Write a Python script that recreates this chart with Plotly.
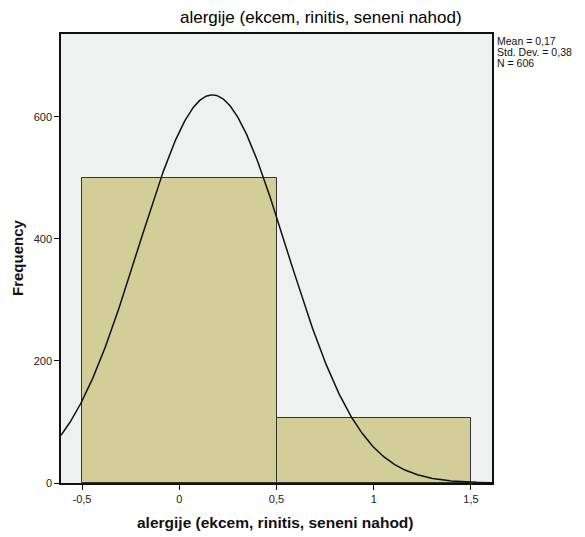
import numpy as np
import plotly.graph_objects as go

# Data
bin_centers = [0, 1]
frequencies = [500, 106]
mean_val = 0.17
std_val = 0.38
n_val = 606
x_tickvals = [-0.5, 0, 0.5, 1, 1.5]
x_ticktext = ["-0,5", "0", "0,5", "1", "1,5"]
y_tickvals = [0, 200, 400, 600]
y_ticktext = ["0", "200", "400", "600"]
title_text = "alergije (ekcem, rinitis, seneni nahod)"
x_title = "alergije (ekcem, rinitis, seneni nahod)"
y_title = "Frequency"
stats_lines = ["Mean = 0,17", "Std. Dev. = 0,38", "N = 606"]

xmin, xmax = -0.608, 1.608
bin_width = 1.0

xs = np.linspace(xmin, xmax, 400)
ys = n_val * bin_width / (std_val * np.sqrt(2 * np.pi)) * np.exp(-0.5 * ((xs - mean_val) / std_val) ** 2)

FONT = "Liberation Sans, Arial, sans-serif"

# page offset (body margin) of 8px
OFF = 8
W, H = 585 - OFF, 537 - OFF
L, T = 61 - OFF, 34 - OFF
plot_w = 492 - 61
plot_h = 483 - 34
R = W - L - plot_w
B = H - T - plot_h


def px_x(page_x):
    return (page_x - 61) / plot_w


def px_y(page_y):
    return (483 - page_y) / plot_h


fig = go.Figure()
fig.add_trace(go.Bar(
    x=bin_centers, y=frequencies, width=bin_width,
    marker=dict(color="#D3CE97", line=dict(color="#333333", width=1)),
    hoverinfo="skip", showlegend=False,
))
fig.add_trace(go.Scatter(
    x=xs, y=ys, mode="lines", line=dict(color="#111111", width=1.5),
    hoverinfo="skip", showlegend=False,
))

fig.update_layout(
    width=W, height=H,
    margin=dict(l=L, r=R, t=T, b=B, autoexpand=False),
    paper_bgcolor="white",
    plot_bgcolor="#EFF0F0",
    bargap=0,
    font=dict(family=FONT, size=11, color="#222222"),
    xaxis=dict(
        range=[xmin, xmax], tickvals=x_tickvals, ticktext=x_ticktext,
        ticks="outside", ticklen=5, tickcolor="#111111", tickwidth=1,
        showgrid=False, zeroline=False, automargin=False,
        showline=True, linecolor="#111111", linewidth=1.5, mirror=True,
        tickfont=dict(size=11, color="#222222"),
    ),
    yaxis=dict(
        range=[0, 736], tickvals=y_tickvals, ticktext=y_ticktext,
        ticks="outside", ticklen=5, tickcolor="#111111", tickwidth=1,
        showgrid=False, zeroline=False, automargin=False,
        showline=True, linecolor="#111111", linewidth=1.5, mirror=True,
        tickfont=dict(size=11, color="#222222"),
    ),
)

fig.add_annotation(
    x=px_x(321), y=px_y(18), xref="paper", yref="paper",
    text=title_text, showarrow=False,
    font=dict(size=17, color="#000000", family=FONT),
    xanchor="center", yanchor="middle",
)
fig.add_annotation(
    x=px_x(275), y=px_y(522), xref="paper", yref="paper",
    text="<b>" + x_title + "</b>", showarrow=False,
    font=dict(size=15.5, color="#111111", family=FONT),
    xanchor="center", yanchor="middle",
)
fig.add_annotation(
    x=px_x(17), y=px_y(258), xref="paper", yref="paper",
    text="<b>" + y_title + "</b>", showarrow=False, textangle=-90,
    font=dict(size=15, color="#111111", family=FONT),
    xanchor="center", yanchor="middle",
)

for i, line in enumerate(stats_lines):
    fig.add_annotation(
        x=px_x(495), y=px_y(41 + 11 * i), xref="paper", yref="paper",
        text=line, showarrow=False, align="left",
        font=dict(size=10.5, color="#111111", family=FONT),
        xanchor="left", yanchor="middle",
    )

fig.write_html("out.html")
